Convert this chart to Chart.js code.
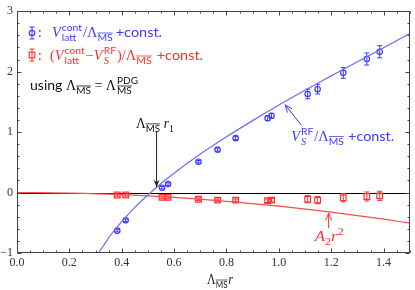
<!DOCTYPE html>
<html><head><meta charset="utf-8">
<script src="https://cdn.jsdelivr.net/npm/chart.js@4.4.0/dist/chart.umd.min.js"></script>
<style>html,body{margin:0;padding:0;background:#fff;}</style>
</head><body>
<canvas id="c" width="415" height="290"></canvas>
<script>
// ---- data ----
const xVals = [0.383, 0.415, 0.554, 0.577, 0.693, 0.766, 0.835, 0.957, 0.972, 1.110, 1.148, 1.246, 1.336, 1.385];
const latticeVals = [-0.63, -0.46, 0.08, 0.14, 0.51, 0.71, 0.90, 1.23, 1.27, 1.63, 1.71, 1.98, 2.21, 2.33];
const latticeErr = [0.02, 0.02, 0.02, 0.02, 0.02, 0.025, 0.025, 0.04, 0.04, 0.08, 0.08, 0.09, 0.10, 0.10];
const subtractedVals = [-0.04, -0.04, -0.08, -0.08, -0.11, -0.125, -0.125, -0.135, -0.125, -0.11, -0.125, -0.085, -0.065, -0.055];
const subtractedErr = [0.02, 0.02, 0.02, 0.02, 0.02, 0.02, 0.02, 0.03, 0.03, 0.06, 0.06, 0.07, 0.075, 0.075];
const rfCurveX = [0.30, 0.33, 0.36, 0.40, 0.45, 0.50, 0.55, 0.60, 0.70, 0.80, 0.90, 1.00, 1.10, 1.20, 1.30, 1.40, 1.50];
const rfCurveY = [-1.07, -0.88, -0.69, -0.48, -0.245, -0.04, 0.15, 0.32, 0.636, 0.923, 1.19, 1.447, 1.693, 1.93, 2.165, 2.394, 2.63];
const a2CurveX = [0.0, 0.2, 0.4, 0.6, 0.8, 1.0, 1.2, 1.4, 1.5];
const a2CurveY = [0.0, -0.01, -0.035, -0.08, -0.145, -0.225, -0.325, -0.44, -0.505];
const xTicks = [0, 0.2, 0.4, 0.6, 0.8, 1.0, 1.2, 1.4];
const xTickLabels = ['0.0', '0.2', '0.4', '0.6', '0.8', '1.0', '1.2', '1.4'];
const yTicks = [-1, 0, 1, 2, 3];
const yTickLabels = ['\u22121', '0', '1', '2', '3'];

const BLUE = '#3b3bff', BLUE_LINE = '#6b6bff', RED = '#ff3030', RED_LINE = '#ff4a4a';
const SANS = 'Lato, "Open Sans", sans-serif';
const SERIF = '"Liberation Serif", "DejaVu Serif", serif';
const f = (sz, fam, st) => (st ? st + ' ' : '') + sz + 'px ' + fam;
const S14 = f(14, SANS), S10 = f(10, SANS), R14 = f(14, SERIF), I14 = f(14, SERIF, 'italic'), I10 = f(10, SERIF, 'italic');

function layoutRich(ctx, x, y, segs, draw) {
  const x0 = x;
  for (const s of segs) {
    if (s.gap) { x += s.gap; continue; }
    if (s.sup !== undefined || s.sub !== undefined) {
      let w = 0;
      if (s.sup) { ctx.font = s.supF || S10; if (draw) ctx.fillText(s.sup, x + 1, y - 6); w = Math.max(w, ctx.measureText(s.sup).width + 1); }
      if (s.sub) {
        ctx.font = s.subF || S10; if (draw) ctx.fillText(s.sub, x + 1, y + 4);
        const sw = ctx.measureText(s.sub).width + 1;
        if (s.subOl && draw) { ctx.lineWidth = 0.8; ctx.beginPath(); ctx.moveTo(x + 1, y - 4); ctx.lineTo(x + sw, y - 4); ctx.stroke(); }
        w = Math.max(w, sw);
      }
      x += w + 1; continue;
    }
    ctx.font = s.f; const dy = s.dy || 0;
    if (draw) ctx.fillText(s.t, x, y + dy);
    const w = ctx.measureText(s.t).width;
    if (s.ol && draw) { ctx.lineWidth = 0.8; ctx.beginPath(); ctx.moveTo(x, y + dy - 8); ctx.lineTo(x + w, y + dy - 8); ctx.stroke(); }
    x += w;
  }
  return x - x0;
}

function drawRich(ctx, x, y, segs, color, targetW) {
  ctx.save();
  ctx.fillStyle = color; ctx.strokeStyle = color; ctx.textBaseline = 'alphabetic'; ctx.textAlign = 'left';
  const w = layoutRich(ctx, 0, 0, segs, false);
  const k = targetW ? targetW / w : 1;
  ctx.translate(x, y); ctx.scale(k, 1);
  layoutRich(ctx, 0, 0, segs, true);
  ctx.restore();
}

function errBar(ctx, px, yt, yb, color, cap) {
  ctx.strokeStyle = color; ctx.lineWidth = 1;
  ctx.beginPath();
  ctx.moveTo(px, yt); ctx.lineTo(px, yb);
  ctx.moveTo(px - cap, yt); ctx.lineTo(px + cap, yt);
  ctx.moveTo(px - cap, yb); ctx.lineTo(px + cap, yb);
  ctx.stroke();
}

function arrow(ctx, x1, y1, x2, y2, color, filled) {
  const a = Math.atan2(y2 - y1, x2 - x1), L = 8, W = 0.38;
  ctx.save(); ctx.strokeStyle = color; ctx.fillStyle = color; ctx.lineWidth = 1;
  ctx.beginPath(); ctx.moveTo(x1, y1); ctx.lineTo(x2, y2); ctx.stroke();
  ctx.beginPath();
  ctx.moveTo(x2 - L * Math.cos(a - W), y2 - L * Math.sin(a - W));
  ctx.lineTo(x2, y2);
  ctx.lineTo(x2 - L * Math.cos(a + W), y2 - L * Math.sin(a + W));
  if (filled) { ctx.lineTo(x2 - 0.6 * L * Math.cos(a), y2 - 0.6 * L * Math.sin(a)); ctx.closePath(); ctx.fill(); }
  else ctx.stroke();
  ctx.restore();
}

const deco = {
  id: 'deco',
  beforeDatasetsDraw(chart) {
    const { ctx, chartArea: a, scales: { x, y } } = chart;
    ctx.save();
    const y0 = Math.round(y.getPixelForValue(0)) + 0.5;
    ctx.strokeStyle = '#000'; ctx.lineWidth = 1;
    ctx.beginPath(); ctx.moveTo(a.left, y0); ctx.lineTo(a.right, y0); ctx.stroke();
    xVals.forEach((xv, i) => {
      const px = x.getPixelForValue(xv);
      errBar(ctx, px, y.getPixelForValue(latticeVals[i] + latticeErr[i]), y.getPixelForValue(latticeVals[i] - latticeErr[i]), BLUE, 2.5);
      errBar(ctx, px, y.getPixelForValue(subtractedVals[i] + subtractedErr[i]), y.getPixelForValue(subtractedVals[i] - subtractedErr[i]), RED, 2.5);
    });
    ctx.restore();
  },
  afterDatasetsDraw(chart) {
    const { ctx, chartArea: a, scales: { x, y } } = chart;
    ctx.save();
    ctx.strokeStyle = '#444'; ctx.lineWidth = 1;
    const L = Math.round(a.left) + 0.5, Rr = Math.round(a.right) - 0.5, T = Math.round(a.top) + 0.5, B = Math.round(a.bottom) - 0.5;
    ctx.strokeRect(L, T, Rr - L, B - T);
    ctx.beginPath();
    for (let k = 0; k <= 30; k++) {
      const v = k * 0.05; const px = Math.round(x.getPixelForValue(v)) + 0.5;
      const len = (k % 4 === 0) ? 4 : 2;
      ctx.moveTo(px, B); ctx.lineTo(px, B - len);
      ctx.moveTo(px, T); ctx.lineTo(px, T + len);
    }
    for (let k = 0; k <= 20; k++) {
      const v = -1 + k * 0.2; const py = Math.round(y.getPixelForValue(v)) + 0.5;
      const len = (k % 5 === 0) ? 4 : 2;
      ctx.moveTo(L, py); ctx.lineTo(L + len, py);
      ctx.moveTo(Rr, py); ctx.lineTo(Rr - len, py);
    }
    ctx.stroke();

    const sx = 32;
    errBar(ctx, sx, 27, 39, BLUE, 2.5);
    ctx.strokeStyle = BLUE; ctx.lineWidth = 1.2; ctx.beginPath(); ctx.arc(sx, 33, 2.7, 0, Math.PI * 2); ctx.stroke();
    drawRich(ctx, 38, 37, [
      { t: ':', f: S14 }, { gap: 10 }, { t: 'V', f: I14 }, { sup: 'cont', sub: 'latt' },
      { t: '/', f: R14 }, { t: 'Λ', f: R14 }, { t: 'MS', f: S10, dy: 4, ol: true }, { gap: 3 }, { t: '+const.', f: S14 }
    ], BLUE, 124);
    errBar(ctx, sx, 49, 61, RED, 2.5);
    ctx.strokeStyle = RED; ctx.lineWidth = 1.2; ctx.strokeRect(sx - 2.8, 52.2, 5.6, 5.6);
    drawRich(ctx, 38, 60, [
      { t: ':', f: S14 }, { gap: 8 }, { t: '(', f: R14 }, { t: 'V', f: I14 }, { sup: 'cont', sub: 'latt' },
      { t: '\u2212', f: R14 }, { t: 'V', f: I14 }, { sup: 'RF', sub: 'S', subF: I10 },
      { t: ')/Λ', f: R14 }, { t: 'MS', f: S10, dy: 4, ol: true }, { gap: 5 }, { t: '+const.', f: S14 }
    ], RED, 165);
    drawRich(ctx, 30, 90, [
      { t: 'using ', f: S14 }, { t: 'Λ', f: R14 }, { t: 'MS', f: S10, dy: 4, ol: true }, { t: ' = ', f: R14 },
      { t: 'Λ', f: R14 }, { sup: 'PDG', sub: 'MS', subOl: true }
    ], '#111', 109);

    const ax = x.getPixelForValue(0.533);
    drawRich(ctx, x.getPixelForValue(0.454), y.getPixelForValue(1.07), [
      { t: 'Λ', f: R14 }, { t: 'MS', f: S10, dy: 4, ol: true }, { gap: 4 }, { t: 'r', f: I14 }, { t: '1', f: f(10, SERIF), dy: 4 }
    ], '#111', 38);
    arrow(ctx, ax, y.getPixelForValue(1.02), ax, y.getPixelForValue(0.09), '#222', true);

    arrow(ctx, x.getPixelForValue(1.085), y.getPixelForValue(1.12), x.getPixelForValue(1.024), y.getPixelForValue(1.45), BLUE, false);
    drawRich(ctx, x.getPixelForValue(1.047), y.getPixelForValue(0.86), [
      { t: 'V', f: I14 }, { sup: 'RF', sub: 'S', subF: I10 }, { t: '/Λ', f: R14 }, { t: 'MS', f: S10, dy: 4, ol: true }, { gap: 4 }, { t: '+const.', f: S14 }
    ], BLUE, 103);

    const rx = x.getPixelForValue(1.19);
    arrow(ctx, rx, y.getPixelForValue(-0.59), rx, y.getPixelForValue(-0.34), RED, false);
    drawRich(ctx, x.getPixelForValue(1.137), y.getPixelForValue(-0.80), [
      { t: 'A', f: I14 }, { t: '2', f: f(10, SERIF), dy: 4 }, { t: 'r', f: I14 }, { t: '2', f: f(10, SERIF), dy: -6 }
    ], RED, 29);

    drawRich(ctx, 207, 284, [
      { t: 'Λ', f: f(15, SERIF) }, { t: 'MS', f: S10, dy: 4, ol: true }, { gap: 1 }, { t: 'r', f: f(15, SERIF, 'italic') }
    ], '#222', 26);
    ctx.restore();
  }
};

new Chart(document.getElementById('c'), {
  type: 'scatter',
  data: {
    datasets: [
      { type: 'line', data: rfCurveX.map((v, i) => ({ x: v, y: rfCurveY[i] })), borderColor: BLUE_LINE, borderWidth: 1.2, pointRadius: 0, cubicInterpolationMode: 'monotone', fill: false },
      { type: 'line', data: a2CurveX.map((v, i) => ({ x: v, y: a2CurveY[i] })), borderColor: RED_LINE, borderWidth: 1.2, pointRadius: 0, cubicInterpolationMode: 'monotone', fill: false },
      { data: xVals.map((v, i) => ({ x: v, y: latticeVals[i] })), pointStyle: 'circle', pointRadius: 2.7, borderColor: BLUE, borderWidth: 1.2, backgroundColor: 'rgba(0,0,0,0)' },
      { data: xVals.map((v, i) => ({ x: v, y: subtractedVals[i] })), pointStyle: 'rect', pointRadius: 4, borderColor: RED, borderWidth: 1.2, backgroundColor: 'rgba(0,0,0,0)' }
    ]
  },
  options: {
    responsive: false, animation: false, devicePixelRatio: 1,
    layout: { padding: { top: 7, right: 2, left: 0, bottom: 0 } },
    plugins: { legend: { display: false }, tooltip: { enabled: false } },
    scales: {
      x: {
        type: 'linear', min: 0, max: 1.5,
        grid: { display: false, drawTicks: false }, border: { display: false },
        afterBuildTicks: s => { s.ticks = xTicks.map(v => ({ value: v })); },
        afterFit: s => { s.height = 37; },
        ticks: { padding: 3, maxRotation: 0, autoSkip: false, color: '#333', font: { family: SERIF, size: 12 },
          callback: (v) => { const i = xTicks.findIndex(t => Math.abs(t - v) < 1e-6); return i >= 0 ? xTickLabels[i] : ''; } }
      },
      y: {
        type: 'linear', min: -1, max: 3,
        grid: { display: false, drawTicks: false }, border: { display: false },
        afterBuildTicks: s => { s.ticks = yTicks.map(v => ({ value: v })); },
        afterFit: s => { s.width = 17; },
        ticks: { padding: 4, color: '#333', font: { family: SERIF, size: 12 },
          callback: (v) => { const i = yTicks.findIndex(t => Math.abs(t - v) < 1e-6); return i >= 0 ? yTickLabels[i] : ''; } }
      }
    }
  },
  plugins: [deco]
});
</script>
</body></html>
